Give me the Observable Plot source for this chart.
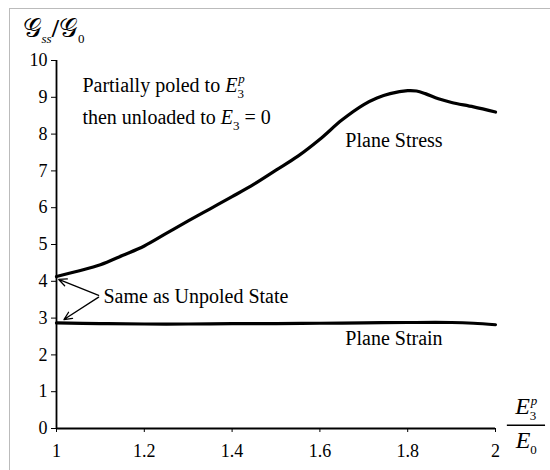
<!DOCTYPE html>
<html><head><meta charset="utf-8">
<script src="https://cdn.jsdelivr.net/npm/d3@7"></script>
<script src="https://cdn.jsdelivr.net/npm/@observablehq/plot@0.6"></script>
<style>
body{margin:0;background:#fff;}
#wrap{position:relative;width:550px;height:470px;overflow:hidden;}
#wrap::before{content:"";position:absolute;left:9px;top:8px;width:560px;height:480px;border-left:1px solid #bbb;border-top:1px solid #bbb;pointer-events:none;}
</style></head><body><div id="wrap"></div>
<script>
// ---- data ----
const xStress = [1.00,1.05,1.10,1.15,1.20,1.25,1.30,1.35,1.40,1.45,1.50,1.55,1.60,1.65,1.70,1.73,1.76,1.80,1.82,1.84,1.87,1.90,1.95,2.00];
const yStress = [4.13,4.28,4.45,4.70,4.96,5.30,5.64,5.97,6.30,6.64,7.02,7.40,7.86,8.38,8.80,8.98,9.10,9.18,9.17,9.10,8.96,8.86,8.74,8.60];
const xStrain = [1.0,1.1,1.2,1.3,1.4,1.5,1.6,1.7,1.8,1.9,1.95,2.0];
const yStrain = [2.87,2.85,2.84,2.84,2.85,2.85,2.86,2.87,2.88,2.88,2.86,2.82];
const xTicks = [1,1.2,1.4,1.6,1.8,2];
const yTicks = [0,1,2,3,4,5,6,7,8,9,10];

// annotation labels (rich text segments) anchored in data coordinates
const labelX = [1.059, 1.059, 1.658, 1.658, 1.107, 0.9226, 2.070, 2.070];
const labelY = [9.33, 8.45, 7.83, 2.45, 3.59, 10.82, 0.58, -0.36];
const labelAnchor = ["start","start","start","start","start","start","middle","middle"];
const labelSegs = [
  ["Partially poled to ", ["E",{i:1}], ["3",{sub:1}], ["p",{sup:1,i:1,back:1}]],
  ["then unloaded to ", ["E",{i:1}], ["3",{sub:1}], [" = 0",{}]],
  ["Plane Stress"],
  ["Plane Strain"],
  ["Same as Unpoled State"],
  [["\u{1D4A2}",{big:1,g:1}], ["ss",{sub:1,i:1}], ["/",{b:1,big:1}], ["\u{1D4A2}",{big:1,g:1}], ["0",{sub:1}]],
  [["E",{i:1,big2:1}], ["3",{sub:1}], ["p",{sup:1,i:1,back:1}]],
  [["E",{i:1,big2:1}], ["0",{sub:1}]]
];
const labels = labelSegs.map((s,k)=>({x:labelX[k], y:labelY[k], anchor:labelAnchor[k],
  text: s.map(t => typeof t === "string" ? t : t[0]).join("")}));

// arrows from "Same as Unpoled State" to the two starting values
const arrowX1 = [1.096, 1.096];
const arrowY1 = [3.62, 3.57];
const arrowX2 = [1.005, 1.017];
const arrowY2 = [4.05, 2.96];
const arrows = arrowX1.map((v,k)=>({x1:v, y1:arrowY1[k], x2:arrowX2[k], y2:arrowY2[k]}));

// fraction bar of x label
const barY = [0.09]; const barX1 = [2.027]; const barX2 = [2.114];

const stress = xStress.map((x,k)=>({x, y:yStress[k]}));
const strain = xStrain.map((x,k)=>({x, y:yStrain[k]}));

const plot = Plot.plot({
  width: 550, height: 470,
  marginLeft: 56, marginRight: 55, marginTop: 60, marginBottom: 42,
  style: {fontFamily: "'Liberation Serif', 'Times New Roman', serif", fontSize: "18px", color: "#000", background: "#fff", overflow: "visible"},
  x: {domain: [1, 2], ticks: xTicks, tickFormat: d => String(d), tickSize: 4, tickPadding: 12, label: null},
  y: {domain: [0, 10], ticks: yTicks, tickSize: 5, tickPadding: 4, label: null},
  marks: [
    Plot.ruleX([1], {strokeWidth: 1.8}),
    Plot.ruleY([0], {strokeWidth: 1.8}),
    Plot.line(stress, {x: "x", y: "y", curve: "catmull-rom", strokeWidth: 3.2, stroke: "#000"}),
    Plot.line(strain, {x: "x", y: "y", curve: "catmull-rom", strokeWidth: 3.2, stroke: "#000"}),
    Plot.arrow(arrows, {x1: "x1", y1: "y1", x2: "x2", y2: "y2", strokeWidth: 1.3, headLength: 10, headAngle: 50, stroke: "#000"}),
    Plot.ruleY(barY.map((y,k)=>({y, x1: barX1[k], x2: barX2[k]})), {y: "y", x1: "x1", x2: "x2", strokeWidth: 1.6}),
    Plot.text(labels.filter(d => d.anchor === "start"), {x: "x", y: "y", text: "text", textAnchor: "start", fontSize: 20, fill: "#000"}),
    Plot.text(labels.filter(d => d.anchor === "middle"), {x: "x", y: "y", text: "text", textAnchor: "middle", fontSize: 20, fill: "#000"})
  ]
});
document.getElementById("wrap").appendChild(plot);

// rich-text post-processing (sub/superscripts, italics)
const base = 20;
const byText = new Map(labels.map((d,k) => [d.text, k]));
d3.select(plot).selectAll("text").each(function() {
  const k = byText.get(this.textContent);
  if (k === undefined) return;
  const t = d3.select(this);
  t.text(null);
  let shift = 0;
  for (const seg of labelSegs[k]) {
    const [str, f] = typeof seg === "string" ? [seg, {}] : [seg[0], seg[1]];
    const sp = t.append("tspan").text(str);
    let target = 0;
    if (f.sub) { target = base * 0.3; sp.attr("font-size", base * 0.65); }
    if (f.sup) { target = -base * 0.42; sp.attr("font-size", base * 0.65); }
    if (f.big) sp.attr("font-size", 26);
    if (f.big2) sp.attr("font-size", 24);
    if (f.i) sp.attr("font-style", "italic");
    if (f.b) sp.attr("font-weight", "bold");
    if (f.g) sp.attr("font-family", "'DejaVu Serif', 'DejaVu Sans', serif");
    if (f.back) sp.attr("dx", -base * 0.28);
    if (target !== shift) { sp.attr("dy", target - shift); shift = target; }
  }
});
</script></body></html>
